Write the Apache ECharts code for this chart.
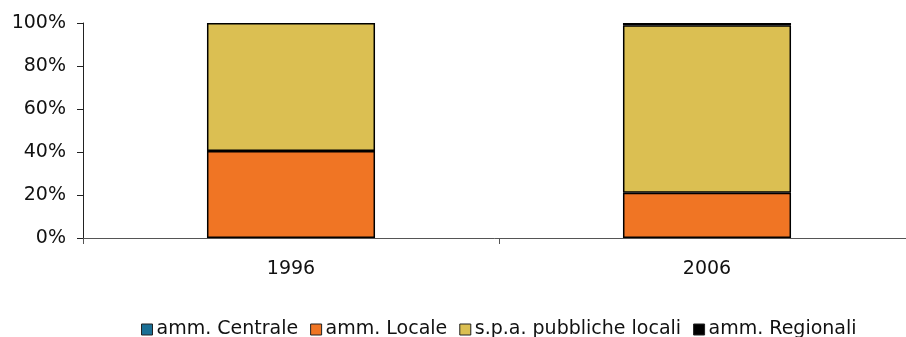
<!DOCTYPE html>
<html>
<head>
<meta charset="utf-8">
<script src="https://cdn.jsdelivr.net/npm/echarts@6/dist/echarts.min.js"></script>
<style>
  html, body { margin: 0; padding: 0; background: #fff; }
  #chart { width: 906px; height: 337px; }
</style>
</head>
<body>
<div id="chart"></div>
<script>
  // valori (quota %)
  const anni = ['1996', '2006'];
  const ammCentrale = [0, 0];
  const ammLocale = [40.5, 21];
  const spaPubbliche = [59.5, 78];
  const ammRegionali = [0, 1];

  const nomi = ['amm. Centrale', 'amm. Locale', 's.p.a. pubbliche locali', 'amm. Regionali'];
  const colori = ['#1a6f95', '#f07524', '#dbbf52', '#000000'];
  const valori = [ammCentrale, ammLocale, spaPubbliche, ammRegionali];

  const myChart = echarts.init(document.getElementById('chart'));
  const option = {
    animation: false,
    textStyle: { fontFamily: 'DejaVu Sans' },
    // il grafico originale sborda leggermente a destra
    grid: { left: 83, width: 832, top: 23, bottom: 99, outerBoundsMode: 'none' },
    legend: {
      top: 315,
      left: 136,
      icon: 'rect',
      itemWidth: 11,
      itemHeight: 11,
      itemGap: 12,
      itemStyle: { borderColor: '#222', borderWidth: 1 },
      textStyle: { fontSize: 19, color: '#111', padding: [0, 0, 0, -1] },
      data: nomi
    },
    xAxis: {
      type: 'category',
      data: anni,
      axisLine: { lineStyle: { color: '#555', width: 1 } },
      axisTick: { show: true, alignWithLabel: false, length: 6, lineStyle: { color: '#555' } },
      axisLabel: { fontSize: 19, color: '#111', margin: 22 }
    },
    yAxis: {
      type: 'value',
      min: 0,
      max: 100,
      interval: 20,
      axisLine: { show: true, lineStyle: { color: '#222' } },
      axisTick: { show: true, length: 6, lineStyle: { color: '#222' } },
      splitLine: { show: false },
      axisLabel: { fontSize: 19, color: '#111', margin: 17, formatter: '{value}%' }
    },
    series: nomi.map((n, i) => ({
      name: n,
      type: 'bar',
      stack: 'tot',
      barWidth: '40.4%',
      itemStyle: { color: colori[i], borderColor: '#000', borderWidth: 1.5 },
      data: valori[i].map(v => v === 0 ? null : v)
    }))
  };
  myChart.setOption(option);
</script>
</body>
</html>
